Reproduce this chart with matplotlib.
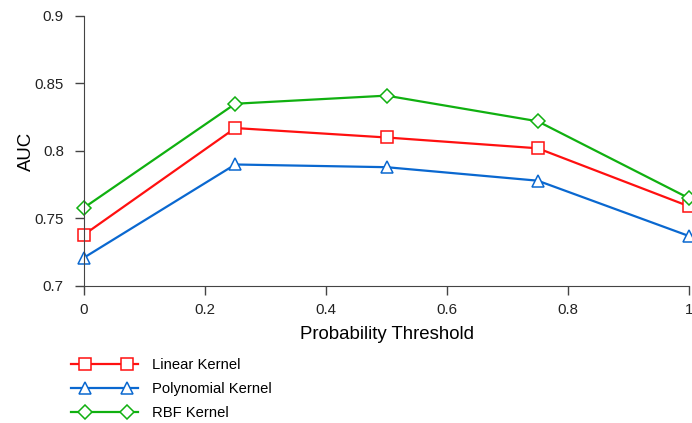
import numpy as np
import matplotlib.pyplot as plt
from matplotlib.lines import Line2D
from matplotlib.legend_handler import HandlerLine2D

plt.rcParams["font.family"] = ["Liberation Sans", "DejaVu Sans"]

thresholds = [0, 0.25, 0.5, 0.75, 1.0]
linear_auc = [0.738, 0.817, 0.810, 0.802, 0.759]
poly_auc = [0.721, 0.790, 0.788, 0.778, 0.737]
rbf_auc = [0.758, 0.835, 0.841, 0.822, 0.765]

series = [
    ("Linear Kernel", linear_auc, "#ff1010", "s"),
    ("Polynomial Kernel", poly_auc, "#0a68d0", "^"),
    ("RBF Kernel", rbf_auc, "#10b010", "D"),
]


class InsetMarkers(HandlerLine2D):
    # full-length line, two markers pulled in from the ends
    def create_artists(self, legend, orig_handle, xdescent, ydescent,
                       width, height, fontsize, trans):
        x0, x1 = -xdescent, width - xdescent
        x = np.array([x0, x0 + 0.95 * fontsize, x1 - 0.75 * fontsize, x1])
        y = np.full(4, (height - ydescent) / 2)
        line = Line2D(x, y)
        self.update_prop(line, orig_handle, legend)
        line.set_markevery([1, 2])
        line.set_transform(trans)
        return [line]


fig = plt.figure(figsize=(6.92, 4.23), dpi=100)
ax = fig.add_axes([0.1214, 0.3239, 0.8743, 0.6383])

for label, vals, color, marker in series:
    ms = 7 if marker == "D" else 8
    ax.plot(thresholds, vals, color=color, lw=1.6, marker=marker, ms=ms,
            mfc="white", mec=color, mew=1.1, label=label, clip_on=False)

ax.set_xlim(0, 1)
ax.set_ylim(0.7, 0.9)
ax.set_xticks([0, 0.2, 0.4, 0.6, 0.8, 1])
ax.set_xticklabels(["0", "0.2", "0.4", "0.6", "0.8", "1"])
ax.set_yticks([0.7, 0.75, 0.8, 0.85, 0.9])
ax.set_yticklabels(["0.7", "0.75", "0.8", "0.85", "0.9"])
ax.spines["top"].set_visible(False)
ax.spines["right"].set_visible(False)
for s in ("left", "bottom"):
    ax.spines[s].set_color("#444444")
ax.tick_params(length=6.5, width=1, color="#444444", labelsize=10.8, labelcolor="#222222")
ax.tick_params(axis="x", pad=6)
ax.tick_params(axis="y", pad=8)
ax.set_xlabel("Probability Threshold", fontsize=13.4, labelpad=6)
ax.set_ylabel("AUC", fontsize=13.4, labelpad=-0.5)

fig.legend(loc="upper left", bbox_to_anchor=(0.0937, 0.168), frameon=False,
           numpoints=2, handlelength=4.6, fontsize=10.6, labelspacing=0.7,
           handletextpad=0.95, borderaxespad=0, handler_map={Line2D: InsetMarkers()})

fig.savefig("out.png", dpi=100)
